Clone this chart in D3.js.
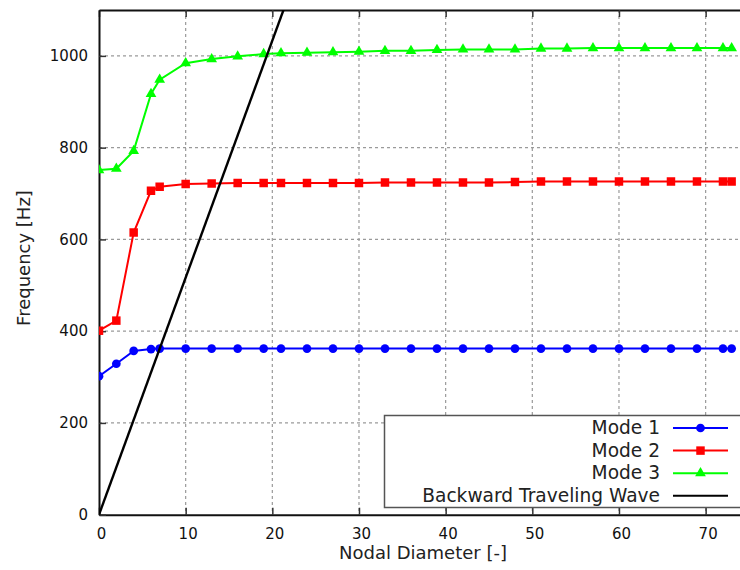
<!DOCTYPE html>
<html>
<head>
<meta charset="utf-8">
<script src="https://cdn.jsdelivr.net/npm/d3@7"></script>
<style>
  body { margin: 0; background: #fff; }
  svg { display: block; font-family: "DejaVu Sans", sans-serif; }
  .grid line { stroke: #9a9a9a; stroke-width: 1.2; stroke-dasharray: 3,3; }
</style>
</head>
<body>
<svg width="740" height="570"></svg>
<script>
// nodal diameters where the modes were computed
var nodalDiameter = [0, 2, 4, 6, 7, 10, 13, 16, 19, 21, 24, 27, 30, 33, 36, 39, 42, 45, 48, 51, 54, 57, 60, 63, 66, 69, 72, 73];

var mode1 = [302, 329, 357, 361, 362, 362, 362, 362, 362, 362, 362, 362, 362, 362, 362, 362, 362, 362, 362, 362, 362, 362, 362, 362, 362, 362, 362, 362];
var mode2 = [401, 423, 615, 706, 715, 721, 722, 723, 723, 723, 723, 723, 723, 724, 724, 724, 724, 724, 725, 726, 726, 726, 726, 726, 726, 726, 726, 726];
var mode3 = [751, 754, 793, 917, 948, 984, 993, 999, 1004, 1006, 1007, 1008, 1009, 1011, 1011, 1013, 1014, 1014, 1014, 1016, 1016, 1017, 1017, 1017, 1017, 1017, 1017, 1017];

// backward traveling wave line (end points)
var btwDiameter = [0, 73];
var btwFreq = [0, 3772];

var xTicks = [0, 10, 20, 30, 40, 50, 60, 70];
var yTicks = [0, 200, 400, 600, 800, 1000];

var seriesNames = ["Mode 1", "Mode 2", "Mode 3", "Backward Traveling Wave"];

var svg = d3.select("svg"),
    margin = {top: 10, left: 99},
    plotW = 641.3,
    plotH = 504.7;

var x = d3.scaleLinear().domain([0, 74]).range([0, plotW]);
var y = d3.scaleLinear().domain([0, 1100]).range([plotH, 0]);

var g = svg.append("g")
    .attr("transform", "translate(" + margin.left + "," + margin.top + ")");

svg.append("defs").append("clipPath")
    .attr("id", "plotclip")
  .append("rect")
    .attr("width", plotW)
    .attr("height", plotH);

// grid
var grid = g.append("g").attr("class", "grid");
grid.selectAll("line.vx")
    .data(xTicks.filter(function(d) { return d > 0; }))
    .enter().append("line")
    .attr("x1", function(d) { return x(d); })
    .attr("x2", function(d) { return x(d); })
    .attr("y1", 0)
    .attr("y2", plotH);
grid.selectAll("line.hy")
    .data(yTicks.filter(function(d) { return d > 0; }))
    .enter().append("line")
    .attr("x1", 0)
    .attr("x2", plotW)
    .attr("y1", function(d) { return y(d); })
    .attr("y2", function(d) { return y(d); });

// axes, gnuplot style: inward ticks on all sides
var TICK = 7;
var fmt = d3.format("d");
var xAxis = g.append("g")
    .attr("transform", "translate(0," + plotH + ")")
    .call(d3.axisBottom(x).tickValues(xTicks).tickFormat(fmt).tickSizeInner(-TICK).tickSizeOuter(0).tickPadding(14));
var xTop = g.append("g")
    .call(d3.axisTop(x).tickValues(xTicks).tickSizeInner(-TICK).tickSizeOuter(0).tickFormat(""));
var yAxis = g.append("g")
    .call(d3.axisLeft(y).tickValues(yTicks).tickFormat(fmt).tickSizeInner(-TICK).tickSizeOuter(0).tickPadding(11));

[xAxis, xTop, yAxis].forEach(function(a) {
  a.select(".domain").attr("stroke", "#111").attr("stroke-width", 2);
  a.selectAll(".tick line").attr("stroke", "#333").attr("stroke-width", 1.5);
  a.selectAll("text").attr("font-size", "15px").attr("fill", "#111")
    .attr("font-family", "DejaVu Sans, sans-serif");
});
xAxis.selectAll("text").attr("dx", "2px");

// series
var series = [
  {name: seriesNames[0], values: mode1, color: "#0000ff", symbol: d3.symbolCircle, size: 60},
  {name: seriesNames[1], values: mode2, color: "#ff0000", symbol: d3.symbolSquare, size: 72},
  {name: seriesNames[2], values: mode3, color: "#00ff00", symbol: d3.symbolTriangle, size: 50}
];

var line = d3.line()
    .x(function(d) { return x(d[0]); })
    .y(function(d) { return y(d[1]); });

var plot = g.append("g").attr("clip-path", "url(#plotclip)");

series.forEach(function(s) {
  var pts = nodalDiameter.map(function(nd, i) { return [nd, s.values[i]]; });
  plot.append("path")
    .datum(pts)
    .attr("fill", "none")
    .attr("stroke", s.color)
    .attr("stroke-width", 2)
    .attr("d", line);
  plot.selectAll(null)
    .data(pts)
    .enter().append("path")
    .attr("transform", function(d) { return "translate(" + x(d[0]) + "," + y(d[1]) + ")"; })
    .attr("fill", s.color)
    .attr("d", d3.symbol().type(s.symbol).size(s.size));
});

plot.append("path")
    .datum(btwDiameter.map(function(nd, i) { return [nd, btwFreq[i]]; }))
    .attr("fill", "none")
    .attr("stroke", "#000")
    .attr("stroke-width", 2.4)
    .attr("d", line);

// axis labels
svg.append("text")
    .attr("x", 423)
    .attr("y", 559)
    .attr("text-anchor", "middle")
    .attr("font-size", "18px")
    .attr("fill", "#222")
    .text("Nodal Diameter [-]");

svg.append("text")
    .attr("transform", "translate(30,258) rotate(-90)")
    .attr("text-anchor", "middle")
    .attr("font-size", "18px")
    .attr("fill", "#222")
    .text("Frequency [Hz]");

// legend
var legend = svg.append("g");
legend.append("rect")
    .attr("x", 384.5)
    .attr("y", 415.5)
    .attr("width", 400)
    .attr("height", 92)
    .attr("fill", "#fff")
    .attr("stroke", "#555")
    .attr("stroke-width", 1.5);

var legendItems = series.concat([{name: seriesNames[3], color: "#000", symbol: null}]);
legendItems.forEach(function(s, i) {
  var by = 434 + i * 22.6;
  legend.append("text")
    .attr("x", 660)
    .attr("y", by)
    .attr("text-anchor", "end")
    .attr("font-size", "18.6px")
    .attr("fill", "#222")
    .text(s.name);
  var ly = by - 6;
  legend.append("line")
    .attr("x1", 673)
    .attr("x2", 728)
    .attr("y1", ly)
    .attr("y2", ly)
    .attr("stroke", s.color)
    .attr("stroke-width", 2);
  if (s.symbol) {
    legend.append("path")
      .attr("transform", "translate(700.5," + ly + ")")
      .attr("fill", s.color)
      .attr("d", d3.symbol().type(s.symbol).size(s.size));
  }
});
</script>
</body>
</html>
